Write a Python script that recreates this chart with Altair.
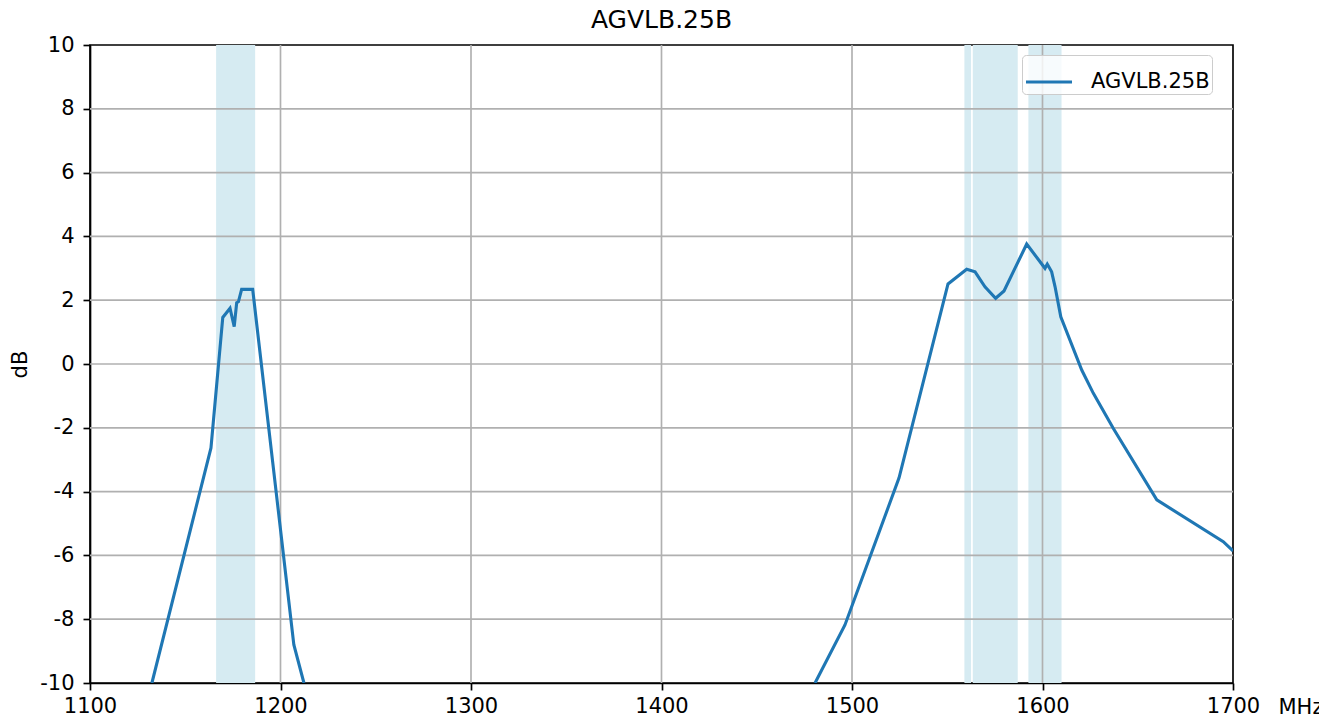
import altair as alt
import pandas as pd

TITLE = "AGVLB.25B"
SERIES = "AGVLB.25B"

# Frequency response (MHz, dB), two visible segments
FREQ = [1132.5, 1163.5, 1169.7, 1173.5, 1175.7, 1177.0, 1177.9, 1179.6, 1185.4, 1207.0, 1212.3,
        1480.6, 1496.3, 1524.7, 1550.4, 1560.2, 1564.6, 1569.8, 1575.4, 1579.8, 1591.7, 1601.3,
        1602.5, 1603.1, 1604.8, 1606.6, 1609.6, 1620.6, 1626.7, 1637.2, 1660.0, 1694.9, 1700.0]
GAIN = [-10.0, -2.63, 1.46, 1.75, 1.17, 1.92, 1.95, 2.34, 2.34, -8.8, -10.0,
        -10.0, -8.18, -3.57, 2.51, 2.97, 2.89, 2.42, 2.06, 2.29, 3.76, 3.0,
        3.13, 3.07, 2.89, 2.42, 1.48, -0.19, -0.92, -2.02, -4.26, -5.57, -5.86]
SEGMENT = [0] * 11 + [1] * 22

# Shaded frequency bands (MHz)
BAND_START = [1166.2, 1559.0, 1563.4, 1592.6]
BAND_END = [1186.7, 1562.5, 1587.0, 1610.0]

X_TICKS = [1100, 1200, 1300, 1400, 1500, 1600, 1700]
Y_TICKS = [-10, -8, -6, -4, -2, 0, 2, 4, 6, 8, 10]
X_DOMAIN = [1100, 1700]
Y_DOMAIN = [-10, 10]

W, H = 1143, 638
FONT = "DejaVu Sans"

line_df = pd.DataFrame({"f": FREQ, "g": GAIN, "seg": SEGMENT, "s": [SERIES] * len(FREQ)})
band_df = pd.DataFrame({"a": BAND_START, "b": BAND_END,
                        "lo": [Y_DOMAIN[0]] * len(BAND_START), "hi": [Y_DOMAIN[1]] * len(BAND_START)})
xg_df = pd.DataFrame({"v": X_TICKS[1:-1]})
yg_df = pd.DataFrame({"v": Y_TICKS[1:-1]})
title_df = pd.DataFrame({"t": [TITLE]})

xscale = alt.Scale(domain=X_DOMAIN, nice=False, zero=False)
yscale = alt.Scale(domain=Y_DOMAIN, nice=False, zero=False)

xaxis = alt.Axis(values=X_TICKS, title="MHz", titleX=1188, titleY=30, titleAlign="left",
                 titleBaseline="alphabetic", titleAngle=0, labelFlush=False, labelPadding=5,
                 labelExpr="datum.value + ''")
yaxis = alt.Axis(values=Y_TICKS, title="dB", titleX=-70, titleY=H / 2, titleAngle=270,
                 titleAlign="center", titleBaseline="middle", labelFlush=False, labelPadding=9,
                 labelExpr="datum.value + ''")

bands = alt.Chart(band_df).mark_rect(color="#d6ebf2").encode(
    x=alt.X("a:Q", scale=xscale, axis=xaxis),
    x2="b:Q",
    y=alt.Y("lo:Q", scale=yscale, axis=yaxis),
    y2="hi:Q",
)

xgrid = alt.Chart(xg_df).mark_rule(color="#b0b0b0", strokeWidth=1.67).encode(
    x=alt.X("v:Q", scale=xscale, axis=xaxis)
)
ygrid = alt.Chart(yg_df).mark_rule(color="#b0b0b0", strokeWidth=1.67).encode(
    y=alt.Y("v:Q", scale=yscale, axis=yaxis)
)

line = alt.Chart(line_df).mark_line(clip=True, strokeWidth=3.1).encode(
    x=alt.X("f:Q", scale=xscale, axis=xaxis),
    y=alt.Y("g:Q", scale=yscale, axis=yaxis),
    detail="seg:N",
    color=alt.Color("s:N", scale=alt.Scale(domain=[SERIES], range=["#1f77b4"]),
                    legend=alt.Legend(title=None, orient="none", legendX=932, legendY=10,
                                      symbolType="stroke", symbolSize=2116,
                                      symbolStrokeWidth=3.1, labelOffset=17,
                                      labelFontSize=21, labelFont=FONT, labelColor="black",
                                      labelExpr="datum.label + '\u00a0'",
                                      strokeColor="#cccccc", fillColor="rgba(255,255,255,0.8)",
                                      cornerRadius=4, padding=2)),
)

title = alt.Chart(title_df).mark_text(fontSize=25, font=FONT, color="black", align="center",
                                      baseline="alphabetic").encode(
    x=alt.value(W / 2), y=alt.value(-17), text="t:N"
)

chart = alt.layer(bands, xgrid, ygrid, line, title).properties(
    width=W, height=H,
    autosize=alt.AutoSizeParams(type="none"),
    padding={"left": 82, "top": 37, "right": 86, "bottom": 37},
).configure(font=FONT).configure_view(stroke="black", strokeWidth=1.67).configure_axis(
    labelFont=FONT, labelFontSize=21, labelColor="black", titleFont=FONT, titleFontSize=21,
    titleFontWeight="normal", titleColor="black", tickColor="black", tickSize=7,
    tickWidth=1.67, domainColor="black", domainWidth=1.67, grid=False,
)

chart.save("out.html", embed_options={"renderer": "svg", "actions": False})
